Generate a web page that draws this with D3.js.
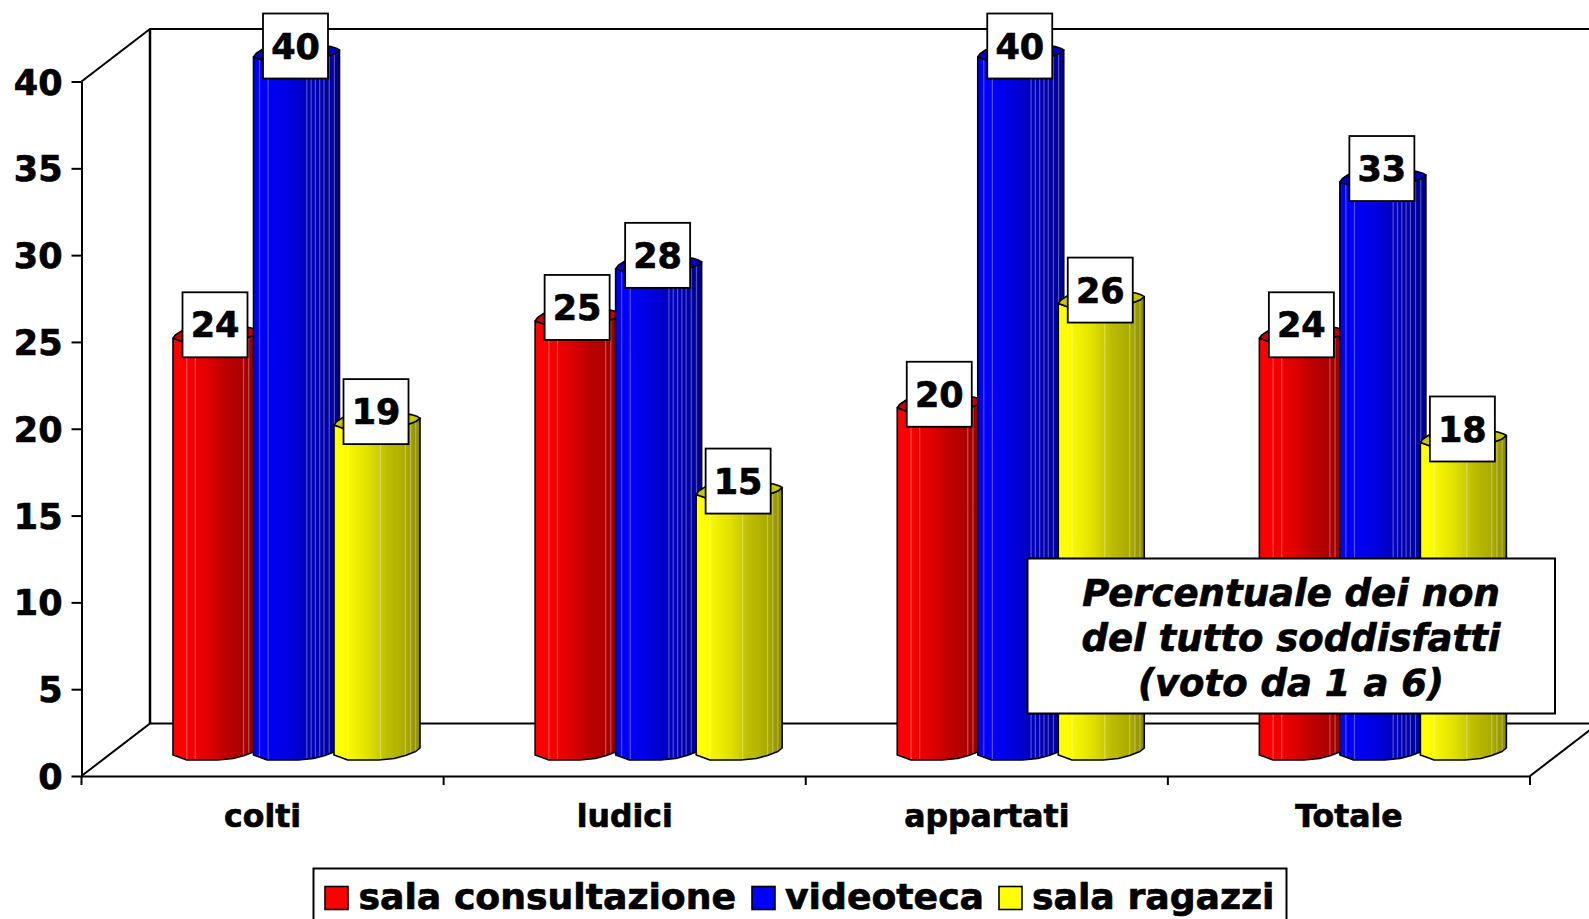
<!DOCTYPE html>
<html><head><meta charset="utf-8">
<script src="https://cdn.jsdelivr.net/npm/d3@7"></script>
<style>html,body{margin:0;padding:0;background:#fff;overflow:hidden}svg{display:block}text{font-family:"DejaVu Sans",sans-serif;font-weight:700;fill:#000;stroke:#000;stroke-width:.7px}</style>
</head><body><script>
const categories = ["colti","ludici","appartati","Totale"];
const seriesNames = ["sala consultazione","videoteca","sala ragazzi"];
const seriesColors = ["#ff0000","#0000ff","#ffff00"];
const salaConsultazione = [24,25,20,24];
const videoteca = [40.2,28,40.2,33];
const salaRagazzi = [19,15,26,18];
const yTicks = [0,5,10,15,20,25,30,35,40];
const noteLines = ["Percentuale dei non","del tutto soddisfatti","(voto da 1 a 6)"];
const seriesValues = [salaConsultazione,videoteca,salaRagazzi];

const W=1589,H=919;
const svg=d3.select("body").append("svg").attr("width",W).attr("height",H);
const defs=svg.append("defs");
const y=d3.scaleLinear().domain([0,40]).range([776,81.5]);
const x=d3.scaleBand().domain(categories).range([81.5,1530]);
const xs=d3.scaleBand().domain(d3.range(3)).range([91.5,91.5+241.5]);
const depthX=68.5, depthY=52.5;
const barW=86, lift=21;

// gradients
seriesColors.forEach((c,i)=>{
  const g=defs.append("linearGradient").attr("id","g"+i);
  const rgb=d3.rgb(c);
  [[0,1],[.1,1],[.4,.88],[.62,.74],[.85,.66],[1,.54]].forEach(([o,f])=>{
    g.append("stop").attr("offset",o).attr("stop-color",d3.rgb(rgb.r*f,rgb.g*f,rgb.b*f));
  });
});

// walls
const wall=svg.append("g").attr("fill","none").attr("stroke","#000").attr("stroke-width",2);
const x0=x.range()[0],x1=x.range()[1],y0=y(0),yT=y(40);
wall.append("path").attr("d",`M${x0},${yT}L${x0+depthX},${yT-depthY}L${W},${yT-depthY}`);
wall.append("path").attr("d",`M${x0+depthX},${yT-depthY}V${y0-depthY}`).attr("stroke-width",2.5);
wall.append("path").attr("d",`M${x0},${y0}L${x0+depthX},${y0-depthY}H${W}`);
wall.append("path").attr("d",`M${x1},${y0}L${x1+depthX},${y0-depthY}`);

// axes
const gy=svg.append("g").attr("transform",`translate(${x0},0)`)
  .call(d3.axisLeft(y).tickValues(yTicks).tickSize(10).tickSizeOuter(0).tickPadding(9));
gy.selectAll("text").style("font-size","35px").attr("dy","0.36em").attr("x",-19);
const gx=svg.append("g").attr("transform",`translate(0,${y0})`)
  .call(d3.axisBottom(x).tickSize(0).tickPadding(29));
gx.selectAll("text").style("font-size","31.5px").attr("dy","0.71em");
svg.selectAll(".domain,.tick line").attr("stroke","#000").attr("stroke-width",2);
gx.append("g").selectAll("line").data(d3.range(5)).join("line")
  .attr("x1",i=>x0+i*x.step()).attr("x2",i=>x0+i*x.step()).attr("y1",0).attr("y2",9)
  .attr("stroke","#000").attr("stroke-width",2);

// cylinders
const frontF=[0,.05,.16,.52,.7,.83,.95,1];
const frontD=[0,1.5,5,5,3.5,.5,-3.5,-7];
const backF=[0,.03,.1,.3,.7,.9,.97,1];
const backD=[0,-3.5,-7.5,-12,-13,-10.5,-8.5,-7];
const stripes=[[.16,.26,.82,.88,.94],[.07,.17,.62,.67,.72,.77,.82,.88,.94],[.16,.54,.83,.89,.95]];
const frontAt=d3.scaleLinear().domain(frontF).range(frontD);

const bars=svg.append("g");
const labels=[];
seriesValues.forEach((vals,si)=>{
  vals.forEach((v,ci)=>{
    const bx=x0+ci*x.step()+xs(si);
    const top=y(v)-lift, bot=y0-lift;
    const g=bars.append("g");
    const fr=frontF.map((f,k)=>[bx+f*barW,frontD[k]]);
    const topFront=fr.map(p=>`${p[0]},${top+p[1]}`);
    const botFront=fr.slice().reverse().map(p=>`${p[0]},${bot+p[1]}`);
    g.append("path").attr("d","M"+topFront.join("L")+"L"+botFront.join("L")+"Z")
      .attr("fill",`url(#g${si})`).attr("stroke","#000").attr("stroke-width",1.6).attr("stroke-linejoin","round");
    g.selectAll("line").data(stripes[si]).join("line")
      .attr("x1",f=>bx+f*barW).attr("x2",f=>bx+f*barW)
      .attr("y1",f=>top+frontAt(f)).attr("y2",f=>bot+frontAt(f)-1)
      .attr("stroke","#fff").attr("stroke-opacity",.32).attr("stroke-width",1.2);
    const back=backF.map((f,k)=>`${bx+f*barW},${top+backD[k]}`).reverse();
    const rgb=d3.rgb(seriesColors[si]);
    g.append("path").attr("d","M"+topFront.join("L")+"L"+back.join("L")+"Z")
      .attr("fill",d3.rgb(rgb.r*.78,rgb.g*.78,rgb.b*.78)).attr("stroke","#000").attr("stroke-width",1.6).attr("stroke-linejoin","round");
    labels.push({cx:bx+barW/2-1,cy:Math.max(top-13.5,46),v});
  });
});

// value labels
const L=svg.append("g").selectAll("g").data(labels).join("g").attr("transform",d=>`translate(${d.cx},${d.cy})`);
L.append("rect").attr("x",-32.5).attr("y",-32.5).attr("width",65).attr("height",65).attr("fill","#fff").attr("stroke","#000").attr("stroke-width",1.8);
L.append("text").attr("text-anchor","middle").attr("dy","0.36em").style("font-size","35px").text(d=>d3.format(".0f")(d.v));

// note
const n=svg.append("g");
n.append("rect").attr("x",1027.5).attr("y",558.5).attr("width",527.5).attr("height",155).attr("fill","#fff").attr("stroke","#000").attr("stroke-width",2);
n.selectAll("text").data(noteLines).join("text").attr("x",1291).attr("y",(d,i)=>605.5+i*45)
  .attr("text-anchor","middle").style("font-size","37px").style("font-style","italic").text(d=>d);

// legend
const lg=svg.append("g");
lg.append("rect").attr("x",313.5).attr("y",868.5).attr("width",973).attr("height",70).attr("fill","#fff").attr("stroke","#000").attr("stroke-width",2);
const swatchX=[325,752,999], textX=[358.5,785,1032];
seriesNames.forEach((s,i)=>{
  lg.append("rect").attr("x",swatchX[i]).attr("y",886.5).attr("width",23).attr("height",23).attr("fill",seriesColors[i]).attr("stroke","#000").attr("stroke-width",1.6);
  lg.append("text").attr("x",textX[i]).attr("y",909).style("font-size","36.2px").text(s);
});
</script></body></html>
